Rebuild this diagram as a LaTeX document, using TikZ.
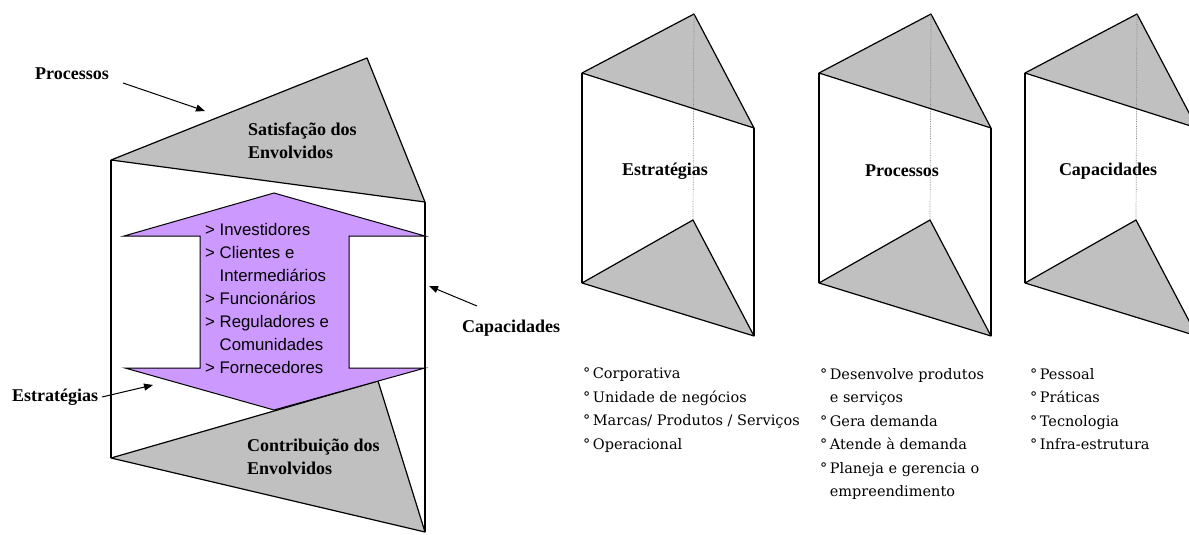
\documentclass[tikz,border=0pt]{standalone}
\usepackage{fontspec}
\setmainfont{Liberation Serif}
\newfontfamily\arialf{Liberation Sans}
\newfontfamily\bullf{DejaVu Serif}
\usetikzlibrary{arrows.meta}
\definecolor{grayfill}{HTML}{C0C0C0}
\definecolor{lilac}{HTML}{CC99FF}
\tikzset{
 facefill/.style={fill=grayfill, draw=black, line width=1.2pt, line join=round},
 prismedge/.style={draw=black, line width=1.2pt},
 hiddenline/.style={draw=gray, line width=0.7pt, densely dotted},
 lbl/.style={font=\fontsize{18}{23}\selectfont\bfseries, inner sep=0pt, align=left},
 pointer/.style={-{Triangle[length=9pt,width=7pt]}, line width=1pt},
 stake/.style={fill=lilac, draw=black, line width=1pt, line join=miter},
 stakeholders/.style={font=\arialf\fontsize{16.8}{23}\selectfont, inner sep=0pt, align=left},
 bullets/.style={font=\bullf\fontsize{14.5}{23.5}\selectfont, inner sep=0pt, align=left, anchor=north west},
}
\newcommand\drawprism[3]{%
 \begin{scope}[shift={(#1,0)}]
 \coordinate (#2L) at (0,73);
 \coordinate (#2T) at (112,14);
 \coordinate (#2R) at (172,128);
 \coordinate (#2BL) at (0,283);
 \coordinate (#2BT) at (111,220);
 \coordinate (#2BR) at (172,336);
 \path[facefill] (#2BL) -- (#2BT) -- (#2BR) -- cycle;
 \path[facefill] (#2L) -- (#2T) -- (#2R) -- cycle;
 \draw[prismedge] (#2L) -- (#2BL);
 \draw[prismedge] (#2R) -- (#2BR);
 \draw[hiddenline] (#2T) -- (#2BT);
 \node[lbl] (#2name) at (83,171) {#3};
 \end{scope}}
\begin{document}
\begin{tikzpicture}[x=1pt,y=-1pt]
\useasboundingbox (0,0) rectangle (1189,535);
\clip (0,0) rectangle (1189,535);
% ---------- left figure ----------
\coordinate (tL) at (111,160);
\coordinate (tT) at (367,58);
\coordinate (tR) at (425,202);
\coordinate (bL) at (111,458);
\coordinate (bT) at (378,381);
\coordinate (bR) at (425,532);
\path[facefill] (tL) -- (tT) -- (tR) -- cycle;
\draw[prismedge] (tL) -- (bL);
\draw[prismedge] (tR) -- (bR);
\path[facefill] (bL) -- (bT) -- (bR) -- cycle;
\path[stake] (274,193) -- (425,236) -- (349,236) -- (349,368) -- (425,368)
  -- (274,410) -- (125,368) -- (200,368) -- (200,236) -- (124,236) -- cycle;
\node[stakeholders, anchor=west] (stk) at (205,298.5)
 {> Investidores\\> Clientes e\\\phantom{> }Intermediários\\> Funcionários\\> Reguladores e\\\phantom{> }Comunidades\\> Fornecedores};
\node[lbl, anchor=west] (sat) at (248,141) {Satisfação dos\\Envolvidos};
\node[lbl, anchor=west] (contr) at (247,457) {Contribuição dos\\Envolvidos};
\node[lbl, anchor=west] (lblP) at (35,74) {Processos};
\node[lbl, anchor=west] (lblC) at (462,328) {Capacidades};
\node[lbl, anchor=west] (lblE) at (12,397) {Estratégias};
\coordinate (pS) at (123,83);
\coordinate (pE) at (205,111);
\coordinate (cS) at (477,306);
\coordinate (cE) at (429,286);
\coordinate (eS) at (102,397);
\coordinate (eE) at (153,385);
\draw[pointer] (pS) -- (pE);
\draw[pointer] (cS) -- (cE);
\draw[pointer] (eS) -- (eE);
% ---------- right prisms ----------
\drawprism{582}{pa}{Estratégias}
\drawprism{819}{pb}{Processos}
\drawprism{1025}{pc}{Capacidades}
\node[bullets] (listA) at (583,368)
 {°\,Corporativa\\°\,Unidade de negócios\\°\,Marcas/ Produtos / Serviços\\°\,Operacional};
\node[bullets] (listB) at (820,368)
 {°\,Desenvolve produtos\\\phantom{°\,}e serviços\\°\,Gera demanda\\°\,Atende à demanda\\°\,Planeja e gerencia o\\\phantom{°\,}empreendimento};
\node[bullets] (listC) at (1030,368)
 {°\,Pessoal\\°\,Práticas\\°\,Tecnologia\\°\,Infra-estrutura};
\end{tikzpicture}
\end{document}
